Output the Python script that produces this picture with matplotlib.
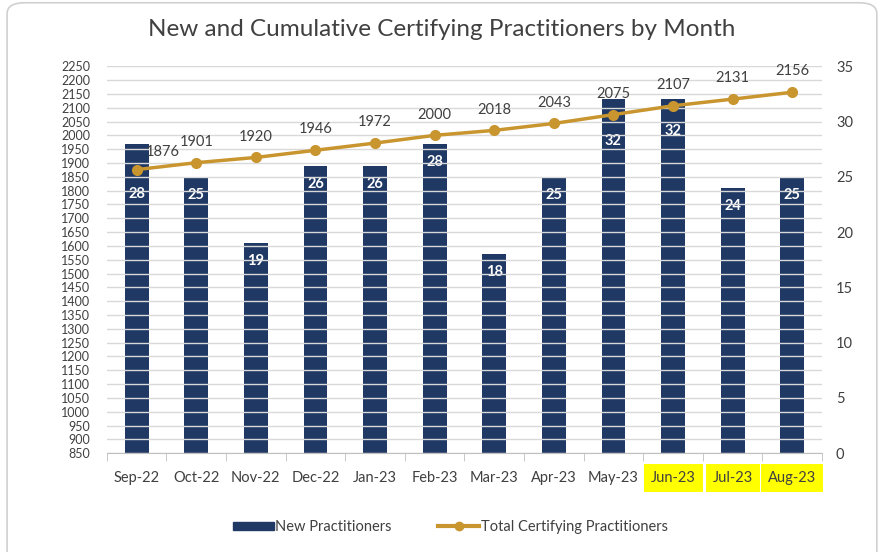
import numpy as np
import matplotlib.pyplot as plt
from matplotlib.patches import FancyBboxPatch

plt.rcParams['font.family'] = ['Lato', 'DejaVu Sans']

months = ['Sep-22', 'Oct-22', 'Nov-22', 'Dec-22', 'Jan-23', 'Feb-23',
          'Mar-23', 'Apr-23', 'May-23', 'Jun-23', 'Jul-23', 'Aug-23']
new_pract = [28, 25, 19, 26, 26, 28, 18, 25, 32, 32, 24, 25]
total_pract = [1876, 1901, 1920, 1946, 1972, 2000, 2018, 2043, 2075, 2107, 2131, 2156]
highlighted = ['Jun-23', 'Jul-23', 'Aug-23']

bar_color = '#1F3864'
line_color = '#C9952F'
text_color = '#404040'

fig = plt.figure(figsize=(8.83, 5.52), dpi=100)
fig.patches.append(FancyBboxPatch((0.008, -0.05), 0.985, 1.045,
                                  boxstyle='round,pad=0,rounding_size=0.02',
                                  transform=fig.transFigure, facecolor='white',
                                  edgecolor='#d0d0d0', linewidth=1.2, zorder=-1))

ax = fig.add_axes([0.121, 0.179, 0.810, 0.701])
ax2 = ax.twinx()

x = np.arange(len(months))

# bars on the right axis, line on the left axis
ax.set_zorder(2)
ax.patch.set_visible(False)
ax2.set_zorder(1)

ax2.bar(x, new_pract, width=0.4, color=bar_color, zorder=3)

# label distance below bar top (in points), larger where the line crosses the bar
drops = [50, 18, 18, 18, 18, 18, 18, 18, 42, 32, 18, 18]
for xi, v, d in zip(x, new_pract, drops):
    ax2.annotate(str(v), (xi, v), xytext=(0, -d * 0.72), textcoords='offset points',
                 ha='center', va='center', color='white',
                 fontsize=10.5, fontweight='bold', zorder=4)

ax.plot(x, total_pract, color=line_color, linewidth=2.5, marker='o',
        markersize=7, zorder=5)
for xi, v in zip(x, total_pract):
    off = (19, 13) if xi == 0 else (0, 15)
    ax.annotate(str(v), (xi, v), xytext=off, textcoords='offset points',
                ha='center', va='center', fontsize=10.5, color=text_color)

ax.set_xlim(-0.5, len(months) - 0.5)
ax.set_ylim(850, 2250)
ax.set_yticks(np.arange(850, 2251, 50))
ax2.set_ylim(0, 35)
ax2.set_yticks(np.arange(0, 36, 5))

ax.grid(axis='y', color='#d9d9d9', linewidth=1)
ax.set_axisbelow(True)
for a in (ax, ax2):
    for s in ['top', 'left', 'right']:
        a.spines[s].set_visible(False)
    a.spines['bottom'].set_color('#bfbfbf')
ax2.spines['bottom'].set_visible(False)

ax.tick_params(axis='y', length=0, labelsize=9, labelcolor=text_color, pad=12)
ax2.tick_params(axis='y', length=0, labelsize=10.5, labelcolor=text_color, pad=10)
ax.set_xticks(x)
ax.set_xticklabels(months)
ax.tick_params(axis='x', length=0, labelsize=10.5, labelcolor=text_color, pad=13)
ax.set_xticks(np.arange(-0.5, len(months)), minor=True)
ax.tick_params(axis='x', which='minor', length=6, color='#bfbfbf')
for lbl in ax.get_xticklabels():
    if lbl.get_text() in highlighted:
        lbl.set_bbox(dict(facecolor='#FFFF00', edgecolor='none', pad=5))

fig.suptitle('New and Cumulative Certifying Practitioners by Month',
             y=0.965, fontsize=17.5, color=text_color)

h1 = plt.Rectangle((0, 0), 1, 1, color=bar_color)
h2, = plt.plot([], [], color=line_color, linewidth=3, marker='o', markersize=6)
fig.legend([h1, h2], ['New Practitioners', 'Total Certifying Practitioners'],
           loc='center', bbox_to_anchor=(0.51, 0.045), ncol=2, frameon=False,
           fontsize=10.5, labelcolor=text_color, handlelength=2.8,
           handleheight=0.5, handletextpad=0.1, columnspacing=3.2)

fig.savefig('out.png', dpi=100)
